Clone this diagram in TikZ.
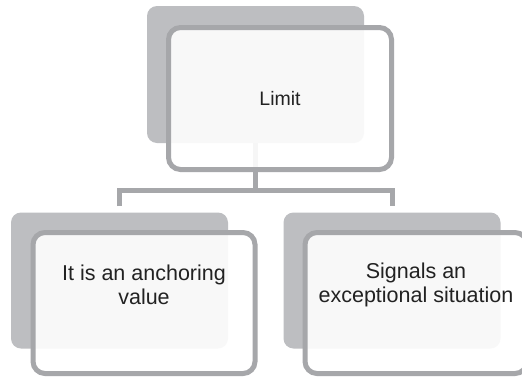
\documentclass[tikz,border=0pt]{standalone}
\usepackage{fontspec}
\setmainfont{Liberation Sans}
\usetikzlibrary{calc}
\definecolor{backgray}{HTML}{BDBEC1}
\definecolor{edgegray}{HTML}{A6A7AA}
\definecolor{txt}{HTML}{222222}
\tikzset{
  backbox/.style={fill=backgray, draw=none, rounded corners=10pt, minimum width=217pt, minimum height=136pt, inner sep=0pt, outer sep=0pt},
  frontbox/.style={fill=white, fill opacity=0.9, draw=edgegray, draw opacity=1, line width=5pt, rounded corners=12pt, minimum width=222pt, minimum height=141pt, inner sep=0pt, outer sep=0pt},
  boxtext/.style={align=center, text=txt, font=\fontsize{21.5}{24}\selectfont, inner sep=0pt},
  conn/.style={draw=edgegray, line width=5pt, line join=miter, line cap=butt}
}
\begin{document}
\begin{tikzpicture}[x=1pt,y=-1pt]
\useasboundingbox (0,0) rectangle (522,378);
\clip (0,0) rectangle (522,378);
\fill[white] (0,0) rectangle (522,378);
% back boxes
\node[backbox, minimum height=137pt] (tb) at (255.5,74.5) {};
\node[backbox] (lb) at (119.5,280.5) {};
\node[backbox] (rb) at (392,280.5) {};
% connectors
\coordinate (j) at (255.5,190);
\coordinate (lt) at ($(lb.north)+(0,-6.5)$);
\coordinate (rt) at ($(rb.north)+(0,-6.5)$);
\draw[conn] (tb.south) -- (j);
\draw[conn] (lt) |- (j) -| (rt);
% front boxes
\node[frontbox, minimum width=223pt, minimum height=142pt] (tf) at (280,98.5) {};
\node[frontbox] (lf) at (144,303) {};
\node[frontbox] (rf) at (416,303) {};
% texts
\node[boxtext, font=\fontsize{19.5}{23.5}\selectfont] (tt) at (tf.center) {Limit};
\node[boxtext] (lt1) at ($(lf.center)+(0,-18)$) {It is an anchoring\\value};
\node[boxtext] (rt1) at ($(rf.center)+(0,-18)$) {Signals an\\exceptional situation};
\end{tikzpicture}
\end{document}
